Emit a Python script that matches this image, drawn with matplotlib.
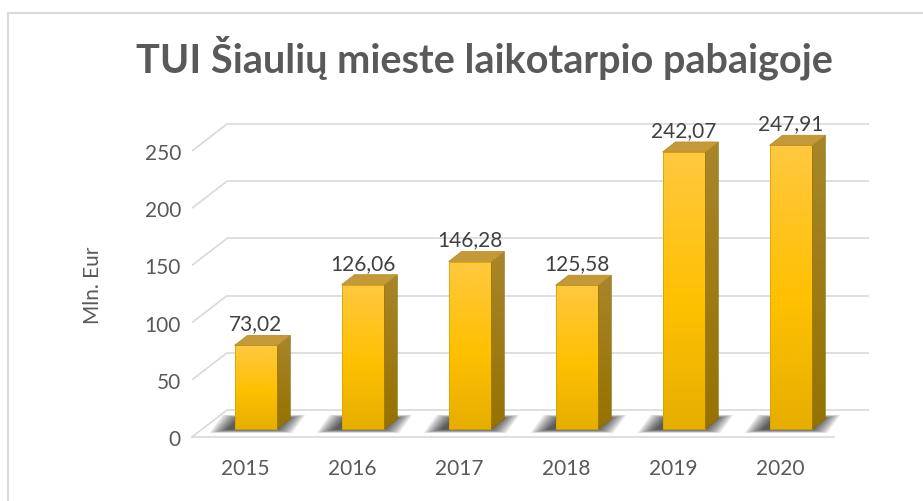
import numpy as np
import matplotlib
matplotlib.use("Agg")
import matplotlib.pyplot as plt
from matplotlib.patches import Polygon
from matplotlib.lines import Line2D
from matplotlib.colors import LinearSegmentedColormap

categories = ["2015", "2016", "2017", "2018", "2019", "2020"]
values = [73.02, 126.06, 146.28, 125.58, 242.07, 247.91]
value_labels = ["73,02", "126,06", "146,28", "125,58", "242,07", "247,91"]
yticks = [0, 50, 100, 150, 200, 250]
title = "TUI Šiaulių mieste laikotarpio pabaigoje"
ylabel = "Mln. Eur"

plt.rcParams['font.family'] = ['Lato', 'DejaVu Sans']

W, H = 923, 502
fig = plt.figure(figsize=(W / 100, H / 100), dpi=100)
fig.patch.set_facecolor('white')

border = '#D9D9D9'
fig.add_artist(Line2D([8 / W, 8 / W], [0, 1 - 14 / H], color=border, lw=1.5))
fig.add_artist(Line2D([8 / W, 1], [1 - 14 / H, 1 - 14 / H], color=border, lw=1.5))

ax = fig.add_axes([192 / W, 64 / H, 642 / W, 286 / H])
xmin, xmax = -0.5, len(categories) - 0.5
ax.set_xlim(xmin, xmax)
ax.set_ylim(0, 250)
for s in ax.spines.values():
    s.set_visible(False)
ax.patch.set_visible(False)

p0 = ax.transData.transform((0, 0))
p1 = ax.transData.transform((1, 1))
sx = p1[0] - p0[0]
sy = p1[1] - p0[1]


def depth(z):
    return z * 35 / sx, z * 27 / sy


grid = '#D9D9D9'
glw = 1.2
wdx, wdy = depth(1)
for v in yticks:
    ax.plot([xmin, xmin + wdx], [v, v + wdy], color=grid, lw=glw, clip_on=False, zorder=1,
            solid_capstyle='butt')
    ax.plot([xmin + wdx, xmax + wdx], [v + wdy, v + wdy], color=grid, lw=glw, clip_on=False,
            zorder=1, solid_capstyle='butt')
ax.plot([xmin, xmax], [0, 0], color=grid, lw=glw, clip_on=False, zorder=1)

front_cmap = LinearSegmentedColormap.from_list(
    'front', [(0, '#E6AE00'), (0.45, '#FFC000'), (1, '#FFC840')])
side_cmap = LinearSegmentedColormap.from_list(
    'side', [(0, '#957200'), (1, '#A8852A')])
grad = np.linspace(0, 1, 256).reshape(-1, 1)

zf, zb = 0.3, 0.67
fx, fy = depth(zf)
bx, by = depth(zb)
ddx, ddy = bx - fx, by - fy
hw = 0.2


def face(pts, cmap, edge, lw, extent):
    poly = Polygon(pts, closed=True, facecolor='none', edgecolor=edge, lw=lw, zorder=4,
                   clip_on=False)
    ax.add_patch(poly)
    im = ax.imshow(grad, extent=extent, origin='lower', aspect='auto', cmap=cmap,
                   zorder=3, interpolation='bilinear')
    im.set_clip_path(poly)
    im.set_clip_box(fig.bbox)
    return poly


for k, v in enumerate(values):
    xl = k - hw + fx
    xr = k + hw + fx
    yb = fy
    yt = fy + v
    # soft shadow on the floor
    n = 12
    for i in range(n):
        m = (20 - i * 1.6) / sx
        mv = (4 - i * 0.3) / sy
        sh = -5 / sx
        pts = [(xl - m + sh, yb - mv), (xr + m + sh, yb - mv),
               (xr + ddx + m + sh, yb + ddy + mv), (xl + ddx - m + sh, yb + ddy + mv)]
        ax.add_patch(Polygon(pts, closed=True, facecolor='black', edgecolor='none',
                             alpha=0.08, zorder=2, clip_on=False))
    # front face
    face([(xl, yb), (xr, yb), (xr, yt), (xl, yt)], front_cmap, '#D9A400', 0.6,
         [xl, xr, yb, yt])
    # side face
    face([(xr, yb), (xr + ddx, yb + ddy), (xr + ddx, yt + ddy), (xr, yt)], side_cmap,
         '#8C6C00', 0.5, [xr, xr + ddx, yb, yt + ddy])
    # top face
    top = Polygon([(xl, yt), (xr, yt), (xr + ddx, yt + ddy), (xl + ddx, yt + ddy)],
                  closed=True, facecolor='#C4993A', edgecolor='#B8902E', lw=0.6, zorder=4,
                  clip_on=False)
    ax.add_patch(top)
    ax.text(k + fx, yt + 16 / sy, value_labels[k], ha='center', va='baseline',
            fontsize=15, color='#404040', zorder=5)

ax.set_xlim(xmin, xmax)
ax.set_ylim(0, 250)
ax.set_yticks(yticks)
ax.set_yticklabels([str(t) for t in yticks])
ax.set_xticks(range(len(categories)))
ax.set_xticklabels(categories)
ax.tick_params(axis='y', length=0, pad=8, labelsize=15, labelcolor='#595959')
ax.tick_params(axis='x', length=0, pad=15, labelsize=15, labelcolor='#595959')

fig.text(93 / W, 1 - 285 / H, ylabel, rotation=90, ha='center', va='center',
         fontsize=15, color='#595959')
fig.text(484 / W, 1 - 58 / H, title, ha='center', va='center', fontsize=28.5,
         fontweight='bold', color='#595959')

fig.savefig('out.png', dpi=100)
